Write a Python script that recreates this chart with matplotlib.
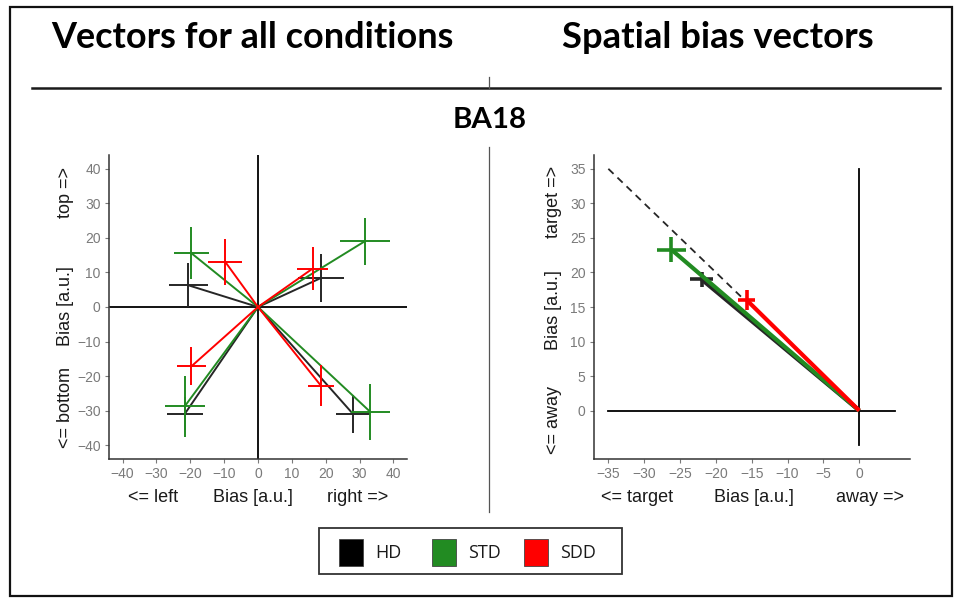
import matplotlib
matplotlib.use("Agg")
import matplotlib.pyplot as plt
from matplotlib.patches import Rectangle
from matplotlib.lines import Line2D

# ---------------- data ----------------
conditions = ["HD", "STD", "SDD"]
cond_colors = ["#262626", "#228B22", "#FF0000"]

# Left panel: vectors for the four quadrants (UL, UR, LL, LR) per condition
hd_x = [-20.6, 18.6, -21.6, 28.0]
hd_y = [6.3, 8.4, -30.9, -30.9]
hd_xerr = [5.7, 6.7, 5.3, 5.0]
hd_yerr = [6.4, 7.0, 4.8, 5.5]

std_x = [-19.7, 31.5, -21.6, 33.2]
std_y = [15.6, 19.0, -28.7, -30.4]
std_xerr = [5.2, 7.4, 5.9, 5.7]
std_yerr = [7.5, 6.9, 8.8, 8.2]

sdd_x = [-9.7, 16.1, -19.7, 18.6]
sdd_y = [13.1, 11.1, -17.2, -22.8]
sdd_xerr = [5.0, 4.7, 4.3, 3.7]
sdd_yerr = [6.7, 6.3, 5.5, 6.0]

# Right panel: spatial bias vectors (HD, STD, SDD)
sb_x = [-22.0, -26.2, -15.7]
sb_y = [19.0, 23.3, 16.0]
sb_xerr = [1.6, 2.0, 1.2]
sb_yerr = [1.1, 1.8, 1.5]

# reference diagonal (dashed)
diag_x = [-35, -16]
diag_y = [35, 16]

left_ticks = [-40, -30, -20, -10, 0, 10, 20, 30, 40]
right_xticks = [-35, -30, -25, -20, -15, -10, -5, 0]
right_yticks = [0, 5, 10, 15, 20, 25, 30, 35]

# ---------------- figure ----------------
W, H = 960, 599
fig = plt.figure(figsize=(W / 100, H / 100), dpi=100)
fig.patch.set_facecolor("white")

def fx(px):
    return px / W

def fy(py):
    return 1 - py / H

base_font = "Liberation Sans"
tick_col = "#7a7a7a"
lab_col = "#1a1a1a"

def style_axes(ax):
    for s in ["top", "right"]:
        ax.spines[s].set_visible(False)
    for s in ["left", "bottom"]:
        ax.spines[s].set_color("#333333")
        ax.spines[s].set_linewidth(1.1)
    ax.tick_params(axis="both", colors=tick_col, labelcolor=tick_col,
                   length=3, width=0.8, pad=3, labelsize=10)
    for lab in ax.get_xticklabels() + ax.get_yticklabels():
        lab.set_fontfamily(base_font)
    ax.set_facecolor("none")

# ---- left axes ----
axL = fig.add_axes([fx(109), fy(459), fx(407) - fx(109), fy(155) - fy(459)])
axL.set_xlim(-44, 44)
axL.set_ylim(-44, 44)
axL.axhline(0, color="black", lw=1.3, zorder=1)
axL.axvline(0, color="black", lw=1.3, zorder=1)
left_sets = [
    (hd_x, hd_y, hd_xerr, hd_yerr),
    (std_x, std_y, std_xerr, std_yerr),
    (sdd_x, sdd_y, sdd_xerr, sdd_yerr),
]
for (xs, ys, xe, ye), col in zip(left_sets, cond_colors):
    for x, y in zip(xs, ys):
        axL.plot([0, x], [0, y], color=col, lw=1.4, zorder=3, solid_capstyle="butt")
    axL.errorbar(xs, ys, xerr=xe, yerr=ye, fmt="none", ecolor=col,
                 elinewidth=1.4, capsize=0, zorder=3)
axL.set_xticks(left_ticks)
axL.set_yticks(left_ticks)
style_axes(axL)

# ---- right axes ----
axR = fig.add_axes([fx(594), fy(459), fx(910) - fx(594), fy(155) - fy(459)])
axR.set_xlim(-37, 7.07)
axR.set_ylim(-7, 37)
axR.plot([-35, 5], [0, 0], color="black", lw=1.3, zorder=1)
axR.plot([0, 0], [-5, 35], color="black", lw=1.3, zorder=1)
axR.plot(diag_x, diag_y, color="#262626", lw=1.3, ls=(0, (4, 3)), zorder=2)
for i, col in enumerate(cond_colors):
    axR.plot([0, sb_x[i]], [0, sb_y[i]], color=col, lw=3.0, zorder=3 + i,
             solid_capstyle="butt")
    axR.errorbar([sb_x[i]], [sb_y[i]], xerr=[sb_xerr[i]], yerr=[sb_yerr[i]],
                 fmt="none", ecolor=col, elinewidth=2.6, capsize=0, zorder=3 + i)
axR.set_xticks(right_xticks)
axR.set_yticks(right_yticks)
style_axes(axR)

# ---- axis label texts ----
def ftext(px, py, s, **kw):
    kw.setdefault("fontfamily", base_font)
    kw.setdefault("color", lab_col)
    kw.setdefault("fontsize", 13)
    return fig.text(fx(px), fy(py), s, ha="center", va="center", **kw)

ftext(66, 306, "Bias [a.u.]", rotation=90)
ftext(66, 192, "top =>", rotation=90)
ftext(66, 408, "<= bottom", rotation=90)
ftext(153, 497, "<= left")
ftext(253, 497, "Bias [a.u.]")
ftext(358, 497, "right =>")

ftext(553, 310, "Bias [a.u.]", rotation=90)
ftext(553, 202, "target =>", rotation=90)
ftext(553, 420, "<= away", rotation=90)
ftext(637, 497, "<= target")
ftext(754, 497, "Bias [a.u.]")
ftext(870, 497, "away =>")

# ---- titles ----
title_font = "Lato"
t1 = fig.text(fx(252.5), fy(48), "Vectors for all conditions", ha="center",
              va="baseline", fontsize=22, fontweight="bold", fontfamily=title_font)
t2 = fig.text(fx(717.5), fy(48), "Spatial bias vectors", ha="center",
              va="baseline", fontsize=22, fontweight="bold", fontfamily=title_font)
t3 = fig.text(fx(490), fy(128), "BA18", ha="center", va="baseline",
              fontsize=20, fontweight="bold", fontfamily=title_font)

fig.canvas.draw()
r = fig.canvas.get_renderer()
for t, target in [(t1, 401), (t2, 311), (t3, 74)]:
    w = t.get_window_extent(r).width
    t.set_fontsize(t.get_fontsize() * target / w)

# ---- decorations ----
fig.add_artist(Line2D([fx(32), fx(940)], [fy(88), fy(88)], color="#1a1a1a", lw=1.8))
fig.add_artist(Line2D([fx(489), fx(489)], [fy(77), fy(88)], color="#555555", lw=0.9))
fig.add_artist(Line2D([fx(489), fx(489)], [fy(147), fy(512)], color="#555555", lw=0.9))
fig.add_artist(Rectangle((fx(10), fy(596)), fx(952) - fx(10), fy(7) - fy(596),
                         fill=False, edgecolor="#111111", lw=1.6,
                         transform=fig.transFigure))

# ---- legend (manual box) ----
fig.add_artist(Rectangle((fx(319), fy(574)), fx(622) - fx(319), fy(528) - fy(574),
                         fill=False, edgecolor="#333333", lw=1.3,
                         transform=fig.transFigure))
sq_x = [339, 432, 524]
for name, col, x0 in zip(conditions, cond_colors, sq_x):
    c = "#000000" if name == "HD" else col
    fig.add_artist(Rectangle((fx(x0), fy(566)), fx(24), 27 / H, facecolor=c,
                             edgecolor="#444444", lw=0.6, transform=fig.transFigure))
    fig.text(fx(x0 + 36), fy(552.5), name, ha="left", va="center",
             fontsize=13, fontfamily="Open Sans", color="#1a1a1a")

fig.savefig("out.png", dpi=100, facecolor="white")
